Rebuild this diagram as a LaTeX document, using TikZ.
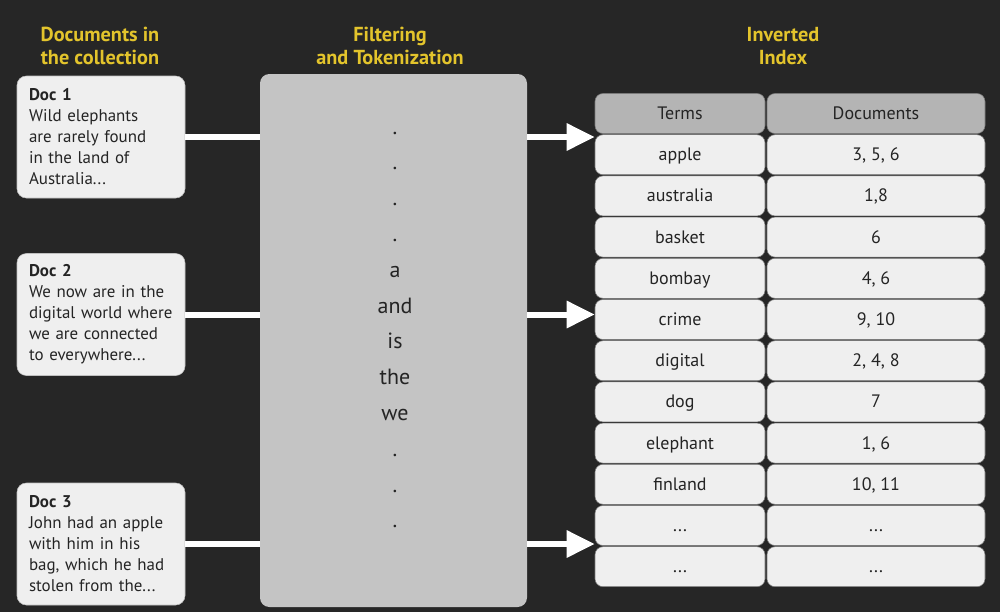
\documentclass[tikz,border=0pt]{standalone}
\usepackage{fontspec}
\setmainfont{PT Sans}
\usetikzlibrary{positioning, arrows.meta}
\definecolor{bgdark}{HTML}{262626}
\definecolor{titleyellow}{HTML}{E3C42C}
\definecolor{boxlight}{HTML}{EFEFEF}
\definecolor{filtergray}{HTML}{C4C4C4}
\definecolor{headgray}{HTML}{B4B4B4}
\definecolor{cellline}{HTML}{7A7A7A}
\definecolor{darktext}{HTML}{242424}
\tikzstyle{title} = [text=titleyellow, font=\fontsize{15.2}{17.5}\selectfont\bfseries,
  align=center]
\tikzstyle{doc} = [rectangle, rounded corners=7pt, minimum width=126pt,
  minimum height=91.5pt, text width=108pt, inner xsep=9pt, align=left,
  draw=boxlight!80!black, fill=boxlight, text=darktext,
  font=\fontsize{12.7}{15.75}\selectfont]
\tikzstyle{filter} = [rectangle, rounded corners=7pt, minimum width=200.25pt,
  minimum height=399.75pt, fill=filtergray]
\tikzstyle{token} = [text=darktext, align=center,
  font=\fontsize{16.5}{26.85}\selectfont]
\tikzstyle{term} = [rectangle, rounded corners=6pt, minimum width=127.5pt,
  minimum height=30pt, inner sep=0pt, text height=11pt, text depth=2pt,
  draw=cellline, fill=boxlight, text=darktext,
  font=\fontsize{13.5}{15}\selectfont]
\tikzstyle{docs} = [term, minimum width=163.5pt]
\tikzstyle{header} = [term, fill=headgray]
\tikzstyle{link} = [draw=white, line width=4.5pt]
\tikzstyle{arrow} = [link, -{Triangle[length=21pt, width=19.5pt]}]

\begin{document}
\begin{tikzpicture}[x=0.75pt, y=-0.75pt, node distance=30.9pt]
  \fill[bgdark] (0,0) rectangle (1000,612);
  \useasboundingbox (0,0) rectangle (1000,612);

  % column titles
  \node (doctitle) [title] at (100,46) {Documents in\\the collection};
  \node (filtertitle) [title] at (390,46) {Filtering\\and Tokenization};
  \node (indextitle) [title] at (783,46) {Inverted\\Index};

  % documents
  \node (doc1) [doc] at (101,137) {\textbf{Doc 1}\\Wild elephants\\are rarely found\\
    in the land of\\Australia...};
  \node (doc2) [doc] at (101,314.5) {\textbf{Doc 2}\\We now are in the\\
    digital world where\\we are connected\\to everywhere...};
  \node (doc3) [doc] at (101,544) {\textbf{Doc 3}\\John had an apple\\
    with him in his\\bag, which he had\\stolen from the...};

  % filtering
  \node (filter) [filter] at (393.5,340.5) {};
  \node (tokens) [token] at (395,330) {.\\.\\.\\.\\a\\and\\is\\the\\we\\.\\.\\.};

  % inverted index
  \node (termhead) [header] at (680,113.5) {Terms};
  \node (dochead) [header, minimum width=163.5pt] at (876,113.5) {Documents};
  \node (t1) [term, below of=termhead] {apple};
  \node (t2) [term, below of=t1] {australia};
  \node (t3) [term, below of=t2] {basket};
  \node (t4) [term, below of=t3] {bombay};
  \node (t5) [term, below of=t4] {crime};
  \node (t6) [term, below of=t5] {digital};
  \node (t7) [term, below of=t6] {dog};
  \node (t8) [term, below of=t7] {elephant};
  \node (t9) [term, below of=t8] {finland};
  \node (t10) [term, below of=t9] {...};
  \node (t11) [term, below of=t10] {...};
  \node (d1) [docs, below of=dochead] {3, 5, 6};
  \node (d2) [docs, below of=d1] {1,8};
  \node (d3) [docs, below of=d2] {6};
  \node (d4) [docs, below of=d3] {4, 6};
  \node (d5) [docs, below of=d4] {9, 10};
  \node (d6) [docs, below of=d5] {2, 4, 8};
  \node (d7) [docs, below of=d6] {7};
  \node (d8) [docs, below of=d7] {1, 6};
  \node (d9) [docs, below of=d8] {10, 11};
  \node (d10) [docs, below of=d9] {...};
  \node (d11) [docs, below of=d10] {...};

  \draw [link] (doc1.east) -- (doc1.east -| filter.west);
  \draw [link] (doc2.east) -- (doc2.east -| filter.west);
  \draw [link] (doc3.east) -- (doc3.east -| filter.west);
  \draw [arrow] (doc1.east -| filter.east) -- (doc1.east -| t1.west);
  \draw [arrow] (doc2.east -| filter.east) -- (doc2.east -| t5.west);
  \draw [arrow] (doc3.east -| filter.east) -- (doc3.east -| t10.west);
\end{tikzpicture}
\end{document}
